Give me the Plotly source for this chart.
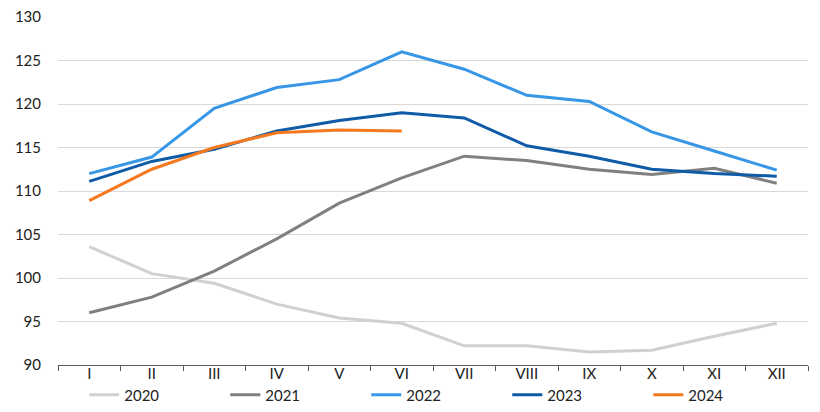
import plotly.graph_objects as go

months = ["I", "II", "III", "IV", "V", "VI", "VII", "VIII", "IX", "X", "XI", "XII"]
y2020 = [103.6, 100.5, 99.4, 97.0, 95.4, 94.8, 92.2, 92.2, 91.5, 91.7, 93.3, 94.8]
y2021 = [96.0, 97.8, 100.8, 104.5, 108.6, 111.5, 114.0, 113.5, 112.5, 111.9, 112.6, 110.9]
y2022 = [112.0, 113.9, 119.5, 121.9, 122.8, 126.0, 124.0, 121.0, 120.3, 116.8, 114.6, 112.4]
y2023 = [111.1, 113.4, 114.8, 116.9, 118.1, 119.0, 118.4, 115.2, 114.0, 112.5, 112.0, 111.7]
y2024 = [108.9, 112.5, 115.0, 116.7, 117.0, 116.9]

series = [
    ("2020", y2020, "#d0d0d0"),
    ("2021", y2021, "#808080"),
    ("2022", y2022, "#3796e6"),
    ("2023", y2023, "#0f5ba8"),
    ("2024", y2024, "#f57a1f"),
]

fig = go.Figure()
for name, vals, color in series:
    fig.add_trace(go.Scatter(
        x=months[:len(vals)], y=vals, name=name, mode="lines",
        line=dict(color=color, width=3),
    ))

# the page body has an 8px default margin, so the figure is sized/offset to fit
fig.update_layout(
    width=812, height=404,
    margin=dict(l=50, r=12, t=9, b=47, autoexpand=False),
    paper_bgcolor="white", plot_bgcolor="white",
    font=dict(family="Lato, 'Open Sans', sans-serif", size=15, color="#222222"),
    showlegend=True,
    legend=dict(
        orientation="h", x=0.035, xanchor="left",
        y=17 / 404, yref="container", yanchor="middle",
        entrywidth=96, entrywidthmode="pixels",
        font=dict(size=15), itemwidth=30, tracegroupgap=0,
    ),
)
fig.update_xaxes(
    type="category", categoryorder="array", categoryarray=months,
    range=[-0.5, 11.5], automargin=False,
    showgrid=False, showline=True, linecolor="#595959", linewidth=1,
    ticks="outside", tickson="boundaries", ticklen=5, tickcolor="#595959",
    tickfont=dict(size=15), fixedrange=True,
    ticklabelstandoff=-5, ticklabeloverflow="allow",
)
fig.update_yaxes(
    range=[90, 130], dtick=5, showgrid=True, gridcolor="#d9d9d9", gridwidth=1,
    zeroline=False, showline=False, ticks="", tickfont=dict(size=15),
    ticklabelstandoff=16, automargin=False, ticklabeloverflow="allow",
)

fig.write_html("out.html")
